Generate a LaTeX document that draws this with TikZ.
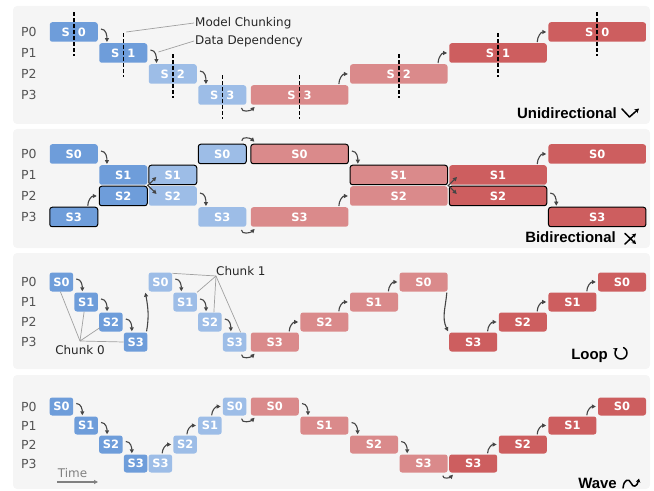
\documentclass[tikz,border=0pt]{standalone}
\usepackage{fontspec}
\setmainfont{DejaVu Sans}
\newfontfamily\titlefam{Liberation Sans}
\usetikzlibrary{arrows.meta,calc}

\definecolor{bluedark}{HTML}{6E9DDA}
\definecolor{bluelight}{HTML}{9DBDE7}
\definecolor{redlight}{HTML}{DA8A8B}
\definecolor{reddark}{HTML}{CD5E5F}
\definecolor{panelbg}{HTML}{F5F5F5}
\definecolor{depgray}{HTML}{454545}
\definecolor{notegray}{HTML}{A0A0A0}
\definecolor{proctext}{HTML}{555555}

\newcommand{\stagefont}{\fontsize{11.5}{13}\selectfont\bfseries}
\newcommand{\labelfont}{\fontsize{12}{14}\selectfont}
\newcommand{\proclfont}{\fontsize{12.5}{14}\selectfont}
\newcommand{\titlefont}{\titlefam\fontsize{15}{18}\selectfont\bfseries}

% small dependency arrows between two stage boxes
\newcommand{\stepdown}[2]{\draw[dep] ($(#1.east)+(3,3)$) to[out=0,in=90] ($(#1.east |- #2.north)+(9,1)$);}
\newcommand{\stepup}[2]{\draw[dep] ($(#2.west |- #1.north)+(-11,1)$) to[out=90,in=180] ($(#2.west)+(-2,0)$);}
\newcommand{\passunder}[2]{\draw[dep] ($(#1.south east)+(-5,-3)$) to[out=-90,in=-135] ($(#2.south west)+(4,-2)$);}
\newcommand{\passover}[2]{\draw[dep] ($(#1.north east)+(-5,3)$) to[out=90,in=135] ($(#2.north west)+(4,2)$);}

\begin{document}
\begin{tikzpicture}[x=1bp,y=1bp,
  panel/.style={fill=panelbg,rounded corners=4bp},
  stage/.style={rounded corners=2.5bp,minimum height=19.5bp,inner sep=0pt,text=white,font=\stagefont},
  bd/.style={stage,fill=bluedark},
  bl/.style={stage,fill=bluelight},
  rl/.style={stage,fill=redlight},
  rd/.style={stage,fill=reddark},
  w1/.style={minimum width=23.5bp},
  w2/.style={minimum width=48bp},
  w4/.style={minimum width=97.5bp},
  short/.style={minimum height=18bp},
  hl/.style={draw=black,line width=1bp},
  procl/.style={anchor=west,inner sep=0pt,text=proctext,font=\proclfont},
  note/.style={inner sep=1bp,text=black!85,font=\labelfont},
  noteline/.style={draw=notegray,line width=0.7bp},
  cut/.style={draw=black,line width=1.5bp,dash pattern=on 3.5bp off 2.5bp},
  dep/.style={draw=depgray,line width=1.1bp,-{Triangle[length=4bp,width=4bp]}},
  title/.style={anchor=base east,inner sep=0pt,font=\titlefont},
  icon/.style={draw=black,line width=1.5bp,line cap=round,line join=round}]

\useasboundingbox (0,0) rectangle (654,-491);

% ---------------- Unidirectional ----------------
\fill[panel] (13,-6) rectangle (650,-124);
\foreach \i/\y in {0/32,1/53,2/74,3/95}
  \node[procl] (p1p\i) at (21,-\y) {P\i};
\node[bd,w2] (p1s0) at (73.75,-32) {S\hspace{8bp}0};
\node[bd,w2] (p1s1) at (123.25,-53) {S\hspace{8bp}1};
\node[bl,w2] (p1s2) at (172.75,-74) {S\hspace{8bp}2};
\node[bl,w2] (p1s3) at (222.25,-95) {S\hspace{8bp}3};
\node[rl,w4] (p1r3) at (299.6,-95) {S\hspace{8bp}3};
\node[rl,w4] (p1r2) at (398.8,-74) {S\hspace{8bp}2};
\node[rd,w4] (p1r1) at (498,-53) {S\hspace{8bp}1};
\node[rd,w4] (p1r0) at (597.2,-32) {S\hspace{8bp}0};
\foreach \n in {p1s0,p1s1,p1s2,p1s3,p1r3,p1r2,p1r1,p1r0}
  \draw[cut] ($(\n)+(0,19.5)$) -- ($(\n)+(0,-24)$);
\stepdown{p1s0}{p1s1}
\stepdown{p1s1}{p1s2}
\stepdown{p1s2}{p1s3}
\passunder{p1s3}{p1r3}
\stepup{p1r3}{p1r2}
\stepup{p1r2}{p1r1}
\stepup{p1r1}{p1r0}
% annotations
\node[note,anchor=west] (mchunk) at (194,-23) {Model Chunking};
\node[note,anchor=west] (ddep) at (194,-41) {Data Dependency};
\draw[noteline] ($(p1s1)+(3,21)$) -- (mchunk.west);
\draw[noteline] ($(p1s1.east)+(11,1)$) -- (ddep.west);
\node[title] (t1) at (617,-119) {Unidirectional};
\draw[icon,-{Stealth[length=4.5bp,width=5bp]}] (622,-109) -- (629.5,-117) -- (639,-108.5);

% ---------------- Bidirectional ----------------
\fill[panel] (13,-129) rectangle (650,-248);
\foreach \i/\y in {0/154,1/175,2/196,3/217}
  \node[procl] (p2p\i) at (21,-\y) {P\i};
% forward direction
\node[bd,w2] (p2f0) at (73.75,-154) {S0};
\node[bd,w2] (p2f1) at (123.25,-175) {S1};
\node[bl,w2] (p2f2) at (172.75,-196) {S2};
\node[bl,w2] (p2f3) at (222.25,-217) {S3};
\node[rl,w4] (p2g3) at (299.6,-217) {S3};
\node[rl,w4] (p2g2) at (398.8,-196) {S2};
\node[rd,w4] (p2g1) at (498,-175) {S1};
\node[rd,w4] (p2g0) at (597.2,-154) {S0};
% backward direction
\node[bd,w2,hl] (p2b3) at (73.75,-217) {S3};
\node[bd,w2,hl] (p2b2) at (123.25,-196) {S2};
\node[bl,w2,hl] (p2b1) at (172.75,-175) {S1};
\node[bl,w2,hl] (p2b0) at (222.25,-154) {S0};
\node[rl,w4,hl] (p2c0) at (299.6,-154) {S0};
\node[rl,w4,hl] (p2c1) at (398.8,-175) {S1};
\node[rd,w4,hl] (p2c2) at (498,-196) {S2};
\node[rd,w4,hl] (p2c3) at (597.2,-217) {S3};
\stepdown{p2f0}{p2f1}
\stepup{p2b3}{p2b2}
\draw[dep] (p2f1.south east) -- ($(p2f2.west)+(8,2)$);
\draw[dep] (p2b2.north east) -- ($(p2b1.west)+(8,-2)$);
\stepdown{p2f2}{p2f3}
\passover{p2b0}{p2c0}
\passunder{p2f3}{p2g3}
\stepdown{p2c0}{p2c1}
\stepup{p2g3}{p2g2}
\draw[dep] (p2c1.south east) -- ($(p2c2.west)+(8,2)$);
\draw[dep] (p2g2.north east) -- ($(p2g1.west)+(8,-2)$);
\stepup{p2g1}{p2g0}
\stepdown{p2c2}{p2c3}
\node[title] (t2) at (616,-243) {Bidirectional};
\draw[icon,-{Stealth[length=4bp,width=4.5bp]}] (625,-244) -- (636,-233.5);
\draw[icon,-{Stealth[length=4bp,width=4.5bp]}] (625,-233.5) -- (636,-244);

% ---------------- Loop ----------------
\fill[panel] (13,-253) rectangle (650,-369);
\foreach \i/\y in {0/282,1/302,2/322,3/342}
  \node[procl] (p3p\i) at (21,-\y) {P\i};
% chunk 0
\node[bd,w1,minimum height=19bp] (p3a0) at (61.375,-282) {S0};
\node[bd,w1,minimum height=19bp] (p3a1) at (86.125,-302) {S1};
\node[bd,w1,minimum height=19bp] (p3a2) at (110.875,-322) {S2};
\node[bd,w1,minimum height=19bp] (p3a3) at (135.625,-342) {S3};
% chunk 1
\node[bl,w1,minimum height=19bp] (p3b0) at (160.375,-282) {S0};
\node[bl,w1,minimum height=19bp] (p3b1) at (185.125,-302) {S1};
\node[bl,w1,minimum height=19bp] (p3b2) at (209.875,-322) {S2};
\node[bl,w1,minimum height=19bp] (p3b3) at (234.625,-342) {S3};
% backward
\node[rl,w2,minimum height=19bp] (p3c3) at (274.8,-342) {S3};
\node[rl,w2,minimum height=19bp] (p3c2) at (324.4,-322) {S2};
\node[rl,w2,minimum height=19bp] (p3c1) at (374,-302) {S1};
\node[rl,w2,minimum height=19bp] (p3c0) at (423.6,-282) {S0};
\node[rd,w2,minimum height=19bp] (p3d3) at (473.2,-342) {S3};
\node[rd,w2,minimum height=19bp] (p3d2) at (522.8,-322) {S2};
\node[rd,w2,minimum height=19bp] (p3d1) at (572.4,-302) {S1};
\node[rd,w2,minimum height=19bp] (p3d0) at (622,-282) {S0};
\stepdown{p3a0}{p3a1}
\stepdown{p3a1}{p3a2}
\stepdown{p3a2}{p3a3}
\draw[dep] ($(p3a3.north east)+(-1,1)$) to[out=80,in=-80] ($(p3b0.south west)+(-3,-1)$);
\stepdown{p3b0}{p3b1}
\stepdown{p3b1}{p3b2}
\stepdown{p3b2}{p3b3}
\passunder{p3b3}{p3c3}
\stepup{p3c3}{p3c2}
\stepup{p3c2}{p3c1}
\stepup{p3c1}{p3c0}
\draw[dep] ($(p3c0.south east)+(-1,-1)$) to[out=-95,in=115] ($(p3d3.north west)+(-1,1)$);
\stepup{p3d3}{p3d2}
\stepup{p3d2}{p3d1}
\stepup{p3d1}{p3d0}
% chunk labels
\coordinate (hub0) at (80,-341);
\node[note] (ch0) at (80,-350.5) {Chunk 0};
\draw[noteline] ($(p3a0.south)+(-1,0)$) -- (hub0);
\draw[noteline] ($(p3a1.south)+(-2,0)$) -- (hub0);
\draw[noteline] ($(p3a2.south west)+(1,4)$) -- (hub0);
\draw[noteline] (p3a3.west) -- (hub0);
\coordinate (hub1) at (216,-276);
\node[note,anchor=south west] (ch1) at (215,-277) {Chunk 1};
\draw[noteline] ($(p3b0.north east)+(0,-1)$) -- (hub1);
\draw[noteline] (p3b1.north east) -- (hub1);
\draw[noteline] ($(p3b2.north)+(4,0)$) -- (hub1);
\draw[noteline] ($(p3b3.north)+(6,0)$) -- (hub1);
\node[title] (t3) at (608,-359) {Loop};
\draw[icon,-{Stealth[length=4bp,width=4.5bp]}] (621,-353) ++(65:6) arc (65:-235:6);

% ---------------- Wave ----------------
\fill[panel] (13,-375) rectangle (650,-489);
\foreach \i/\y in {0/406.5,1/425.5,2/444.5,3/463.5}
  \node[procl] (p4p\i) at (21,-\y) {P\i};
\node[bd,w1,short] (p4a0) at (61.375,-406.5) {S0};
\node[bd,w1,short] (p4a1) at (86.125,-425.5) {S1};
\node[bd,w1,short] (p4a2) at (110.875,-444.5) {S2};
\node[bd,w1,short] (p4a3) at (135.625,-463.5) {S3};
\node[bl,w1,short] (p4b3) at (160.375,-463.5) {S3};
\node[bl,w1,short] (p4b2) at (185.125,-444.5) {S2};
\node[bl,w1,short] (p4b1) at (209.875,-425.5) {S1};
\node[bl,w1,short] (p4b0) at (234.625,-406.5) {S0};
\node[rl,w2,short] (p4c0) at (274.8,-406.5) {S0};
\node[rl,w2,short] (p4c1) at (324.4,-425.5) {S1};
\node[rl,w2,short] (p4c2) at (374,-444.5) {S2};
\node[rl,w2,short] (p4c3) at (423.6,-463.5) {S3};
\node[rd,w2,short] (p4d3) at (473.2,-463.5) {S3};
\node[rd,w2,short] (p4d2) at (522.8,-444.5) {S2};
\node[rd,w2,short] (p4d1) at (572.4,-425.5) {S1};
\node[rd,w2,short] (p4d0) at (622,-406.5) {S0};
\stepdown{p4a0}{p4a1}
\stepdown{p4a1}{p4a2}
\stepdown{p4a2}{p4a3}
\stepup{p4b3}{p4b2}
\stepup{p4b2}{p4b1}
\stepup{p4b1}{p4b0}
\passunder{p4b0}{p4c0}
\stepdown{p4c0}{p4c1}
\stepdown{p4c1}{p4c2}
\stepdown{p4c2}{p4c3}
\passunder{p4c3}{p4d3}
\stepup{p4d3}{p4d2}
\stepup{p4d2}{p4d1}
\stepup{p4d1}{p4d0}
% time axis
\node[inner sep=0pt,text=black!50,font=\labelfont] (time) at (72.5,-473) {Time};
\coordinate (tstart) at (57,-482);
\coordinate (tend) at (98,-482);
\draw[draw=black!50,line width=1.1bp,-{Triangle[length=4bp,width=4bp]}] (tstart) -- (tend);
\node[title] (t4) at (617,-488) {Wave};
\draw[icon,-{Stealth[length=4bp,width=4.5bp]}] (623,-488) .. controls (624,-479) and (629,-478) .. (631,-483) .. controls (633,-488) and (637,-487) .. (639,-478.5);

\end{tikzpicture}
\end{document}
